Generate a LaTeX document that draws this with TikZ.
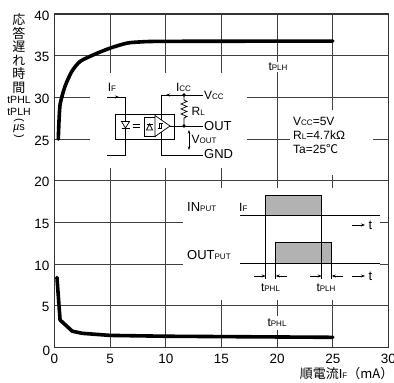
\documentclass[tikz,border=0pt]{standalone}
\usepackage{fontspec}
\setmainfont{Liberation Sans}
\newfontfamily\cjk{Noto Sans CJK JP}
\usetikzlibrary{arrows.meta}
\newcommand{\sm}[1]{{\fontsize{8}{8}\selectfont #1}}
\tikzset{
	gridline/.style={line width=0.8pt, color=black!75},
	curve/.style={line width=3.6pt, line join=round, line cap=round},
	wire/.style={line width=0.7pt},
	tick/.style={inner sep=0pt, font=\fontsize{13.5}{14}\selectfont},
	lbl/.style={inner sep=1pt, font=\fontsize{12}{12}\selectfont},
	big/.style={inner sep=1pt, font=\fontsize{13}{13}\selectfont},
	tip/.style={-{Stealth[length=4pt,width=3pt]}, line width=0.6pt},
}

\begin{document}
\begin{tikzpicture}[x=1pt, y=1pt]
	%%%%% START %%%%%
	\useasboundingbox (0,0) rectangle (394,383);
	
	% grid
	\begin{scope}[shift={(54.5,35.5)}, x=11.133pt, y=8.3375pt]
		\foreach \x in {5,10,...,25} \draw[gridline] (\x,0) -- (\x,40);
		\foreach \y in {5,10,...,35} \draw[gridline] (0,\y) -- (30,\y);
	\end{scope}
	
	% blank areas under the insets
	\fill[white] (90,215) rectangle (247,310);
	\fill[white] (290,208) rectangle (373,273);
	\fill[white] (183,83) rectangle (380,195);
	
	\draw[line width=1.8pt, color=black!80] (54.5,35.5) rectangle (388.5,369);
	
	% curves and ticks
	\begin{scope}[shift={(54.5,35.5)}, x=11.133pt, y=8.3375pt]
		\draw[curve] plot[smooth, tension=0.4] coordinates {(0.34,25.0) (0.49,29.0) (0.94,31.3) (1.55,33.1) (2.29,34.3) (3.49,35.1) (4.98,35.9) (6.49,36.5) (7.7,36.65) (10,36.72) (25,36.75)};
		\draw[curve] (0.22,8.4) -- (0.5,3.3) -- (1.6,1.95) -- (2.5,1.7) -- (5,1.45) -- (10,1.35) -- (25,1.22);
		
		\foreach \y in {5,10,...,40} \node[tick, anchor=east] (y\y) at (-0.45,\y-0.18) {\y};
		\node[tick] (y0) at (-0.72,-0.36) {0};
		\foreach \x in {0,5,...,30} \node[tick] (x\x) at (\x,-1.42) {\x};
	\end{scope}
	
	% axis titles
	\foreach \c [count=\i] in {応,答,遅,れ,時,間}
		\node[inner sep=0pt, font=\cjk\fontsize{13}{13}\selectfont] (ax\i) at (19,376.5-13.5*\i) {\c};
	\node[inner sep=0pt, font=\fontsize{10.5}{10.5}\selectfont] (axphl) at (19,283) {tPHL};
	\node[inner sep=0pt, font=\fontsize{10.5}{10.5}\selectfont] (axplh) at (19,271.5) {tPLH};
	\node[inner sep=0pt, rotate=-90, font=\fontsize{11}{11}\selectfont] (axlp) at (19,263) {(};
	\node[inner sep=0pt, font=\fontsize{11}{11}\selectfont] (axunit) at (19,254.5) {{\itshape µ}s};
	\node[inner sep=0pt, rotate=-90, font=\fontsize{11}{11}\selectfont] (axrp) at (19,247) {)};
	\node[inner sep=0pt, anchor=east, font=\fontsize{13}{13}\selectfont] (xtitle) at (393.5,9) {\cjk 順電流\rmfamily I\sm{F}\cjk（mA）};
	
	% circuit
	\draw[wire] (107,286) -- (125,286) -- (125,228) -- (107,228);
	\draw[tip] (107,286) -- (119,286);
	\draw[wire] (115,244) rectangle (174,269);
	\draw[wire, fill=white] (121.5,261.5) -- (129.5,261.5) -- (125.5,255) -- cycle;
	\draw[wire] (121.5,255) -- (129.5,255);
	\draw[wire] (132.5,258.5) -- (139.5,258.5) (132.5,255.5) -- (139.5,255.5);
	\draw[wire] (144,247) rectangle (155,266);
	\draw[wire] (146.5,253) -- (152.5,253) -- (149.5,259) -- cycle;
	\draw[wire] (146.5,259) -- (152.5,259);
	\draw[wire] (203,288) -- (161,288) -- (161,228) -- (203,228);
	\draw[wire, fill=white] (155,267.5) -- (155,246.5) -- (170,257) -- cycle;
	\draw[line width=0.5pt] (157.5,254.5) -- (161,254.5) -- (161,259.5) (159,254.5) -- (159,259.5) -- (162.5,259.5);
	\draw[wire] (170,257) -- (203,257);
	\draw[wire] (184,288) -- (184,283) -- (187,281.5) -- (181,279) -- (187,276.5) -- (181,274) -- (187,271.5) -- (181,269) -- (187,266.5) -- (184,265) -- (184,257);
	\fill (184,288) circle (1.8);
	\fill (184,257) circle (1.8);
	\draw[tip] (178,288) -- (166,288);
	\draw[{Stealth[length=3.5pt,width=2.5pt]}-{Stealth[length=3.5pt,width=2.5pt]}, line width=0.6pt] (189,253) -- (189,233);
	
	\node[lbl] (if) at (112,296) {I\sm{F}};
	\node[lbl] (icc) at (183.5,295.5) {I\sm{CC}};
	\node[lbl, anchor=west] (vcc) at (203,287.5) {V\sm{CC}};
	\node[lbl, anchor=west] (rl) at (190.5,272) {R\sm{L}};
	\node[big, anchor=west] (out) at (203,257) {OUT};
	\node[lbl, anchor=west] (vout) at (190.5,244) {V\sm{OUT}};
	\node[big, anchor=west] (gnd) at (203,228.5) {GND};
	
	% conditions
	\node[anchor=west, align=left, inner sep=0pt, font=\fontsize{12}{14}\selectfont] (cond) at (293,248) {V\sm{CC}=5V\\R\sm{L}=4.7kΩ\\Ta=25{\cjk ℃}};
	
	% timing chart
	\node[big, anchor=west] (inp) at (186,176) {IN\sm{PUT}};
	\node[lbl, anchor=west] (ifin) at (238,176) {I\sm{F}};
	\draw[wire] (240,168) -- (380,168);
	\draw[wire, fill=black!30] (265.7,168) rectangle (321.7,188);
	\node[big, anchor=west] (outp) at (186,128) {OUT\sm{PUT}};
	\draw[wire] (240,119.7) -- (380,119.7);
	\draw[wire, fill=black!30] (275.7,119.7) rectangle (331.7,140.3);
	\draw[line width=0.5pt] (265.7,168) -- (265.7,104) (321.7,168) -- (321.7,104) (275.7,119.7) -- (275.7,104) (331.7,119.7) -- (331.7,104);
	\draw[tip] (254,107) -- (265.7,107);
	\draw[tip] (287,107) -- (275.7,107);
	\draw[tip] (310,107) -- (321.7,107);
	\draw[tip] (343,107) -- (331.7,107);
	\draw[tip] (352,158) -- (365,158);
	\draw[tip] (352,107) -- (365,107);
	\node[big] (t1) at (370.5,158) {t};
	\node[big] (t2) at (370.5,107) {t};
	\node[lbl, fill=white] (phl) at (270.5,95) {t\sm{PHL}};
	\node[lbl, fill=white] (plh) at (326,95) {t\sm{PLH}};
	
	% curve labels
	\node[lbl, fill=white] (plhc) at (278,316) {t\sm{PLH}};
	\node[lbl, fill=white, inner sep=3pt] (phlc) at (277,60) {t\sm{PHL}};
	%%%%% END %%%%%
\end{tikzpicture}
\end{document}
